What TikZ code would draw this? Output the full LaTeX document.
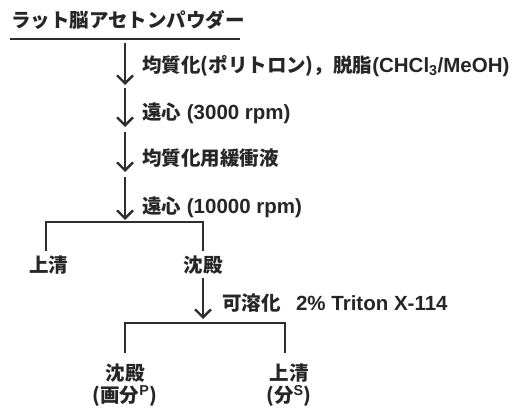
\documentclass[tikz,border=0pt]{standalone}
\usepackage{fontspec}
\setmainfont{Liberation Sans}
\newfontfamily\jp{Noto Sans CJK JP}
\usetikzlibrary{arrows.meta}
\newcommand\J[1]{{\jp\bfseries\fontsize{19.5}{21}\selectfont #1}}
\tikzset{
  txt/.style={inner sep=0pt, font=\fontsize{20.5}{22}\selectfont\bfseries, text=black!85},
  flow/.style={line width=2.4pt, draw=black!82, -{Straight Barb[length=8pt,width=16pt,line width=2.3pt]}},
  bar/.style={line width=2.2pt, draw=black!82},
  lbl/.style={txt, anchor=west}
}
\begin{document}
\begin{tikzpicture}[x=1pt,y=-1pt]
\useasboundingbox[fill=white] (0,0) rectangle (531,412);
% title
\node[txt, anchor=west] (title) at (11,20) {\J{ラット脳アセトンパウダー}};
\coordinate (u1) at (10,39);
\coordinate (u2) at (240,39);
\draw[line width=1.6pt, black!82] (u1) -- (u2);
% main arrows
\coordinate (a1) at (125,43);  \coordinate (b1) at (125,85);
\coordinate (a2) at (125,88);  \coordinate (b2) at (125,127);
\coordinate (a3) at (125,132); \coordinate (b3) at (125,172);
\coordinate (a4) at (125,177); \coordinate (b4) at (125,220);
\draw[flow] (a1) -- (b1);
\draw[flow] (a2) -- (b2);
\draw[flow] (a3) -- (b3);
\draw[flow] (a4) -- (b4);
\node[lbl] (l1) at (142,66) {\J{均質化(ポリトロン)，脱脂}(CHCl\textsubscript{3}/MeOH)};
\node[lbl] (l2) at (142,113) {\J{遠心} (3000 rpm)};
\node[lbl] (l3) at (142,158) {\J{均質化用緩衝液}};
\node[lbl] (l4) at (142,207) {\J{遠心} (10000 rpm)};
% first branch
\node[txt] (s1) at (49,265) {\J{上清}};
\node[txt] (p1) at (203,265) {\J{沈殿}};
\coordinate (k1) at (46,222);
\coordinate (k2) at (203,222);
\coordinate (d1) at (46,251);
\coordinate (d2) at (203,251);
\draw[bar] (d1) -- (k1) -- (k2) -- (d2);
% second step
\coordinate (a5) at (203,278);
\coordinate (b5) at (203,319);
\draw[flow] (a5) -- (b5);
\node[lbl] (l5) at (222,303) {\J{可溶化}\hspace{0.75em}2\% Triton X-114};
% second branch
\node[txt] (p2) at (125,373) {\J{沈殿}};
\node[txt] (f2) at (125,396) {\J{(画分}\textsuperscript{P}\J{)}};
\node[txt] (s2) at (289,373) {\J{上清}};
\node[txt] (f3) at (289,396) {\J{(分}\textsuperscript{S}\J{)}};
\coordinate (c1) at (125,353);
\coordinate (c2) at (125,323);
\coordinate (c3) at (285,323);
\coordinate (c4) at (285,353);
\draw[bar] (c1) -- (c2) -- (c3) -- (c4);
\end{tikzpicture}
\end{document}
